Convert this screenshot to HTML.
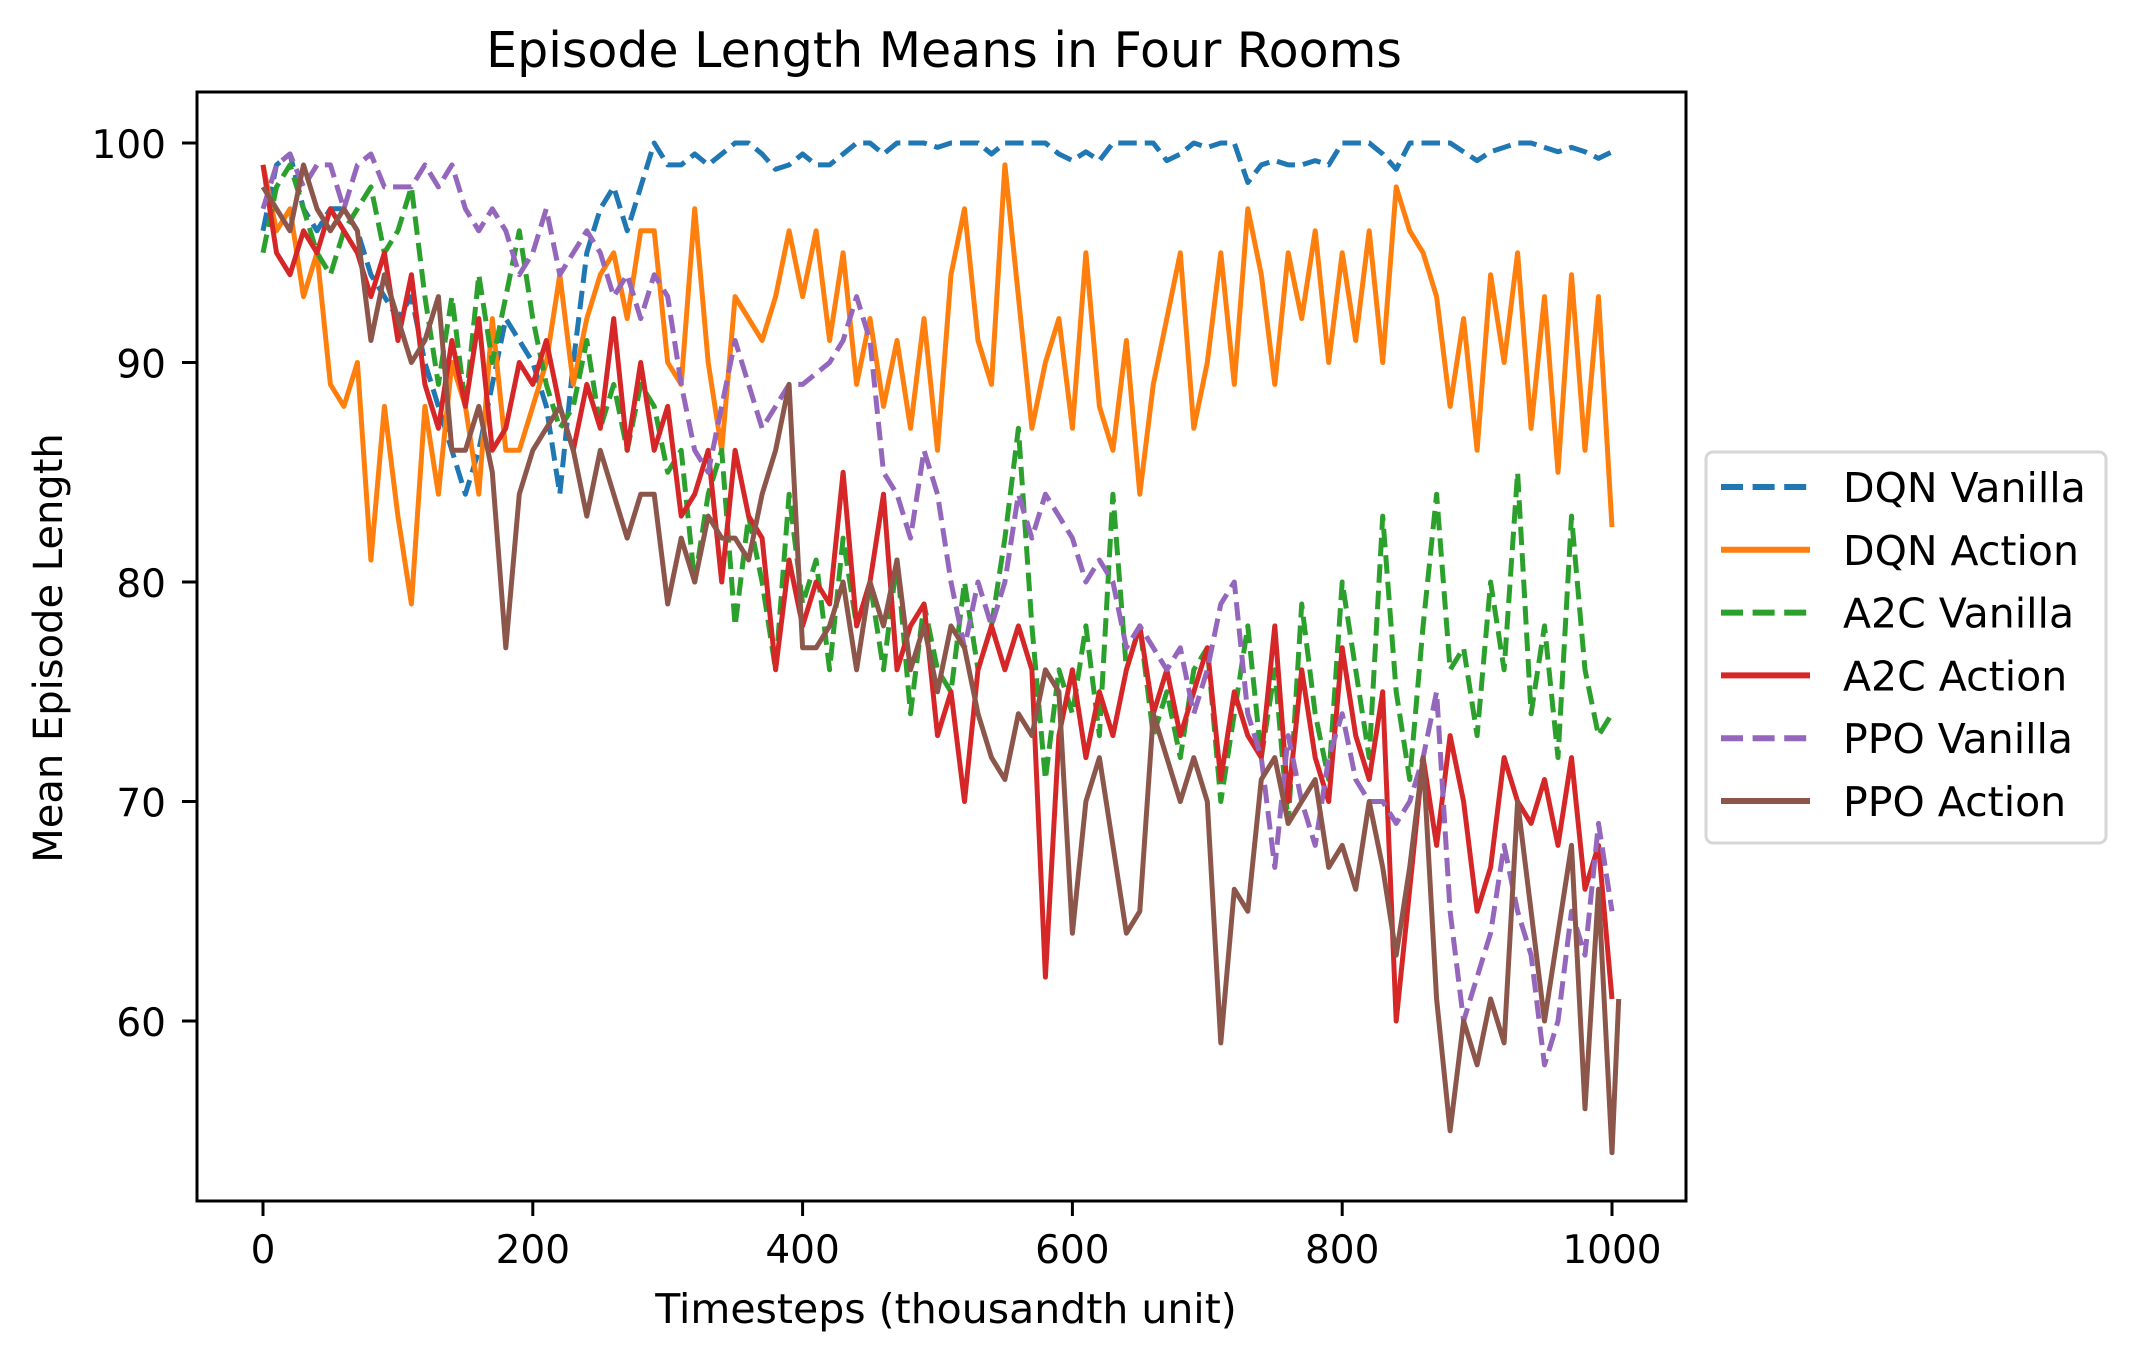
<!DOCTYPE html>
<html><head><meta charset="utf-8"><style>
body{margin:0;background:#fff;}
svg{display:block;font-family:"DejaVu Sans","Liberation Sans",sans-serif;}
</style></head><body>
<svg id="chart" width="2132" height="1361" viewBox="0 0 2132 1361" xmlns="http://www.w3.org/2000/svg">
<rect width="2132" height="1361" fill="#fff"/>
<text x="944" y="67" font-size="49" text-anchor="middle">Episode Length Means in Four Rooms</text>
<g id="plot"></g>
<rect x="197" y="92" width="1489" height="1109" fill="none" stroke="#000" stroke-width="3"/>
<g id="axes"></g>
<text x="946" y="1323" font-size="41" text-anchor="middle">Timesteps (thousandth unit)</text>
<text x="0" y="0" font-size="40" text-anchor="middle" transform="translate(62,648) rotate(-90)">Mean Episode Length</text>
<g id="legend"></g>
</svg>
<script>
const xTicks=[0,200,400,600,800,1000];
const yTicks=[60,70,80,90,100];
const seriesNames=["DQN Vanilla","DQN Action","A2C Vanilla","A2C Action","PPO Vanilla","PPO Action"];
const dqnVanilla=[96,99,99.5,97,96,97,97,96,94,93,92,93,90,88,86,84,86,89,92,91,90,88,84,90,95,97,98,96,98,100,99,99,99.5,99,99.5,100,100,99.5,98.8,99,99.5,99,99,99.5,100,100,99.5,100,100,100,99.8,100,100,100,99.5,100,100,100,100,99.5,99.2,99.6,99.2,100,100,100,100,99.2,99.5,100,99.8,100,100,98.2,99,99.2,99,99,99.2,99,100,100,100,99.5,98.8,100,100,100,100,99.6,99.2,99.6,99.8,100,100,99.8,99.6,99.8,99.6,99.3,99.6];
const dqnAction=[99,96,97,93,95,89,88,90,81,88,83,79,88,84,90,88,84,92,86,86,88,90,94,89,92,94,95,92,96,96,90,89,97,90,86,93,92,91,93,96,93,96,91,95,89,92,88,91,87,92,86,94,97,91,89,99,93,87,90,92,87,95,88,86,91,84,89,92,95,87,90,95,89,97,94,89,95,92,96,90,95,91,96,90,98,96,95,93,88,92,86,94,90,95,87,93,85,94,86,93,82.5];
const a2cVanilla=[95,98,99,97,95,94,96,97,98,95,96,98,93,89,93,88,94,90,93,96,92,89,87,88,91,87,89,86,89,88,85,86,80,84,86,78,83,80,76,84,79,81,76,82,78,80,76,81,74,79,76,75,80,76,78,82,87,78,71,76,74,78,73,84,76,78,73,75,72,76,77,70,74,78,72,76,69,79,74,71,80,76,72,83,75,71,78,84,76,77,73,80,76,85,74,78,72,83,76,73,74];
const a2cAction=[99,95,94,96,95,97,96,95,93,95,91,94,89,87,91,88,92,86,87,90,89,91,88,86,89,87,92,86,90,86,88,83,84,86,80,86,83,82,76,81,78,80,79,85,78,80,84,76,78,79,73,75,70,76,78,76,78,76,62,73,76,72,75,73,76,78,74,76,73,75,77,71,75,73,72,78,70,76,72,70,77,73,71,75,60,66,72,68,73,70,65,67,72,70,69,71,68,72,66,68,61];
const ppoVanilla=[97,99,99.5,98,99,99,97,99,99.5,98,98,98,99,98,99,97,96,97,96,94,95,97,94,95,96,95,93,94,92,94,93,89,86,85,88,91,89,87,88,89,89,89.5,90,91,93,91,85,84,82,86,84,80,77,80,78,80,84,82,84,83,82,80,81,80,77,78,77,76,77,74,76,79,80,74,72,67,73,70,68,72,74,71,70,70,69,70,72,75,65,60,62,64,68,65,63,58,60,65,63,69,65];
const ppoAction=[98,97,96,99,97,96,97,96,91,94,92,90,91,93,86,86,88,85,77,84,86,87,88,86,83,86,84,82,84,84,79,82,80,83,82,82,81,84,86,89,77,77,78,80,76,80,78,81,76,78,75,78,77,74,72,71,74,73,76,75,64,70,72,68,64,65,74,72,70,72,70,59,66,65,71,72,69,70,71,67,68,66,70,67,63,67,72,61,55,60,58,61,59,70,65,60,64,68,56,66,54,61];
const allSeries=[dqnVanilla,dqnAction,a2cVanilla,a2cAction,ppoVanilla,ppoAction];
const colors=["#1f77b4","#ff7f0e","#2ca02c","#d62728","#9467bd","#8c564b"];
const dashed=[true,false,true,false,true,false];
const NS="http://www.w3.org/2000/svg";
function X(v){return 263+(v)*1.349;}
function Y(v){return 143+(100-v)*21.95;}
function mk(t,a,p){const e=document.createElementNS(NS,t);for(const k in a)e.setAttribute(k,a[k]);p.appendChild(e);return e;}
const plot=document.getElementById('plot');
allSeries.forEach((s,i)=>{
  let d=s.map((v,j)=>(j?'L':'M')+X(Math.min(j*10,1005)).toFixed(1)+','+Y(v).toFixed(1)).join(' ');
  const p=mk('path',{d:d,fill:'none',stroke:colors[i],'stroke-width':5,'stroke-linejoin':'round'},plot);
  if(dashed[i])p.setAttribute('stroke-dasharray','18.5 8');
  
  
});
const axes=document.getElementById('axes');
xTicks.forEach(t=>{
  const l=mk('line',{x1:X(t),x2:X(t),y1:1201,y2:1216,stroke:'#000','stroke-width':3},axes);
  
  
  const tx=mk('text',{x:X(t),y:1263,'font-size':39,'text-anchor':'middle'},axes);tx.textContent=t;
  
  
});
yTicks.forEach(t=>{
  const l=mk('line',{x1:182,x2:197,y1:Y(t),y2:Y(t),stroke:'#000','stroke-width':3},axes);
  
  
  const tx=mk('text',{x:166,y:Y(t)+15,'font-size':39,'text-anchor':'end'},axes);tx.textContent=t;
  
  
});
const lg=document.getElementById('legend');
mk('rect',{x:1706,y:452,width:400,height:391,rx:7,fill:'#fff',stroke:'#d6d6d6','stroke-width':3},lg);
seriesNames.forEach((n,i)=>{
  const y=487+i*62.8;
  const l=mk('line',{x1:1721,x2:1810,y1:y,y2:y,stroke:colors[i],'stroke-width':6},lg);
  if(dashed[i])l.setAttribute('stroke-dasharray','22 9.6');
  
  
  const t=mk('text',{x:1843,y:y+15,'font-size':41},lg);t.textContent=n;
  
  
});
</script>
</body></html>
